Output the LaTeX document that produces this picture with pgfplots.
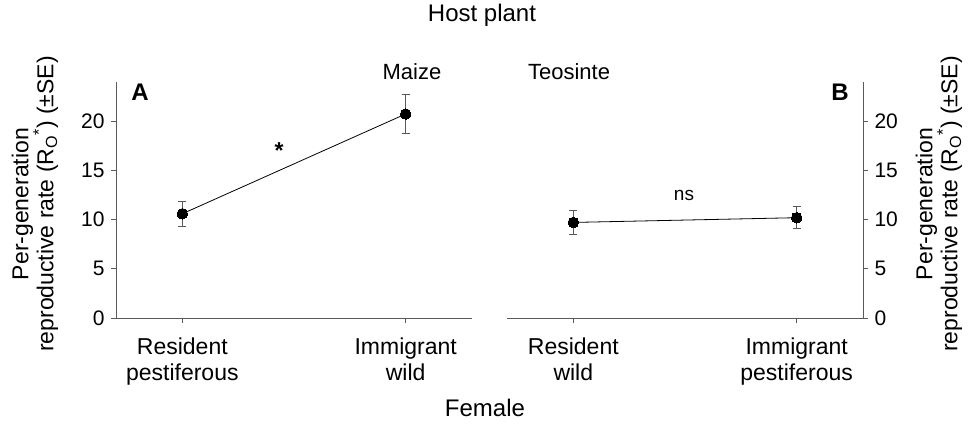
\documentclass[border=0pt]{standalone}
\usepackage{pgfplots}
\pgfplotsset{compat=1.18}
\usepackage{fontspec}
\setmainfont{Liberation Sans}
\definecolor{axgray}{gray}{0.35}

\pgfplotstableread{
x y e
0 10.6 1.3
1 20.75 2.0
}\maize
\pgfplotstableread{
x y e
0 9.72 1.2
1 10.2 1.1
}\teosinte

\begin{document}
\begin{tikzpicture}[font=\fontsize{23}{26}\selectfont]
\useasboundingbox (0pt,0pt) rectangle (970pt,424pt);
\pgfplotsset{
  panel/.style={
    scale only axis, width=356pt, height=236pt,
    xmin=-0.297, xmax=1.297, ymin=0, ymax=24,
    ytick={0,5,10,15,20}, xtick={0,1},
    axis x line*=bottom,
    axis line style={axgray, line width=1pt, -},
    tick style={axgray, line width=0.8pt},
    tick align=outside, major tick length=5pt,
    xticklabel style={align=center, font=\fontsize{23}{26}\selectfont, text=black, yshift=-11pt},
    yticklabel style={font=\fontsize{21}{25}\selectfont, text=black},
    /pgf/number format/assume math mode=true,
    clip=false,
  },
  series/.style={
    black, line width=0.8pt, mark=*, mark size=5.3pt,
    mark options={fill=black, line width=0pt},
    error bars/.cd, y dir=both, y explicit,
    error bar style={axgray, line width=0.8pt},
    error mark options={rotate=90, mark size=4pt, axgray, line width=0.8pt},
  },
}
\begin{axis}[panel, at={(116pt,106pt)}, anchor=south west,
  axis y line*=left, yticklabel style={xshift=-3pt},
  xticklabels={Resident\\pestiferous, Immigrant\\wild}]
\addplot[series] table[x=x, y=y, y error=e] {\maize};
\end{axis}
\begin{axis}[panel, at={(507pt,106pt)}, anchor=south west,
  axis y line*=right, yticklabel pos=right, yticklabel style={xshift=3pt},
  xticklabels={Resident\\wild, Immigrant\\pestiferous}]
\addplot[series] table[x=x, y=y, y error=e] {\teosinte};
\end{axis}

\node[font=\fontsize{24}{28}\selectfont] at (482pt,409pt) {Host plant};
\node[font=\fontsize{22}{26}\selectfont] at (412pt,352pt) {Maize};
\node[font=\fontsize{22}{26}\selectfont] at (569pt,352pt) {Teosinte};
\node[font=\fontsize{24}{28}\selectfont] at (485pt,16pt) {Female};
\node[font=\fontsize{24}{28}\selectfont\bfseries] at (140pt,332pt) {A};
\node[font=\fontsize{24}{28}\selectfont\bfseries] at (840pt,332pt) {B};
\node[font=\fontsize{23}{26}\selectfont\bfseries] at (279pt,273pt) {*};
\node[font=\fontsize{19}{22}\selectfont] at (684pt,229pt) {ns};
\node[rotate=90, align=center, font=\fontsize{23}{25}\selectfont] at (35pt,220pt) {Per-generation\\reproductive rate (R\textsubscript{O}\textsuperscript{*}) (±SE)};
\node[rotate=90, align=center, font=\fontsize{23}{25}\selectfont] at (939pt,220pt) {Per-generation\\reproductive rate (R\textsubscript{O}\textsuperscript{*}) (±SE)};
\end{tikzpicture}
\end{document}
